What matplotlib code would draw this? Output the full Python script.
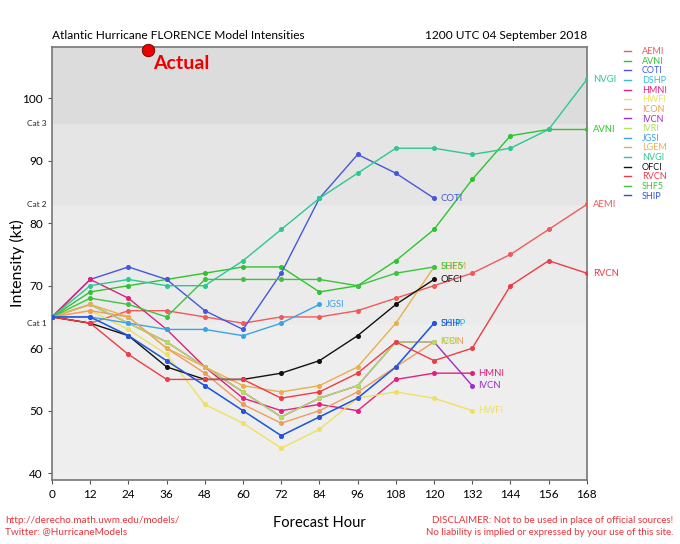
import matplotlib
matplotlib.use("Agg")
import matplotlib.pyplot as plt

plt.rcParams['font.family'] = ['Lato', 'DejaVu Sans']

# ------------------------------
# data: forecast hours and model intensities (kt)
# ------------------------------
hours = [0, 12, 24, 36, 48, 60, 72, 84, 96, 108, 120, 132, 144, 156, 168]

AEMI = [65, 64, 66, 66, 65, 64, 65, 65, 66, 68, 70, 72, 75, 79, 83]
AVNI = [65, 69, 70, 71, 72, 73, 73, 69, 70, 74, 79, 87, 94, 95, 95]
COTI = [65, 71, 73, 71, 66, 63, 72, 84, 91, 88, 84]
DSHP = [65, 65, 62, 58, 54, 50, 46, 49, 52, 57, 64]
HMNI = [65, 71, 68, 63, 57, 52, 50, 51, 50, 55, 56, 56]
HWFI = [65, 66, 63, 59, 51, 48, 44, 47, 52, 53, 52, 50]
ICON = [65, 66, 65, 60, 56, 51, 48, 50, 53, 57, 61]
IVCN = [65, 67, 64, 61, 57, 53, 49, 52, 54, 61, 61, 54]
IVRI = [65, 67, 64, 61, 57, 53, 49, 52, 54, 61, 61]
JGSI = [65, 65, 64, 63, 63, 62, 64, 67]
LGEM = [65, 67, 65, 60, 57, 54, 53, 54, 57, 64, 73]
NVGI = [65, 70, 71, 70, 70, 74, 79, 84, 88, 92, 92, 91, 92, 95, 103]
OFCI = [65, 64, 62, 57, 55, 55, 56, 58, 62, 67, 71]
RVCN = [65, 64, 59, 55, 55, 55, 52, 53, 56, 61, 58, 60, 70, 74, 72]
SHF5 = [65, 68, 67, 65, 71, 71, 71, 71, 70, 72, 73]
SHIP = [65, 65, 62, 58, 54, 50, 46, 49, 52, 57, 64]

models = ['AEMI', 'AVNI', 'COTI', 'DSHP', 'HMNI', 'HWFI', 'ICON', 'IVCN',
          'IVRI', 'JGSI', 'LGEM', 'NVGI', 'OFCI', 'RVCN', 'SHF5', 'SHIP']
series = [AEMI, AVNI, COTI, DSHP, HMNI, HWFI, ICON, IVCN,
          IVRI, JGSI, LGEM, NVGI, OFCI, RVCN, SHF5, SHIP]
colors = ['#f05a5a', '#2ec42e', '#4458dc', '#33bcd6', '#e0207e', '#efe060',
          '#f09c5a', '#a02ccc', '#b4e05a', '#38a4e6', '#e6b04e', '#2cc890',
          '#111111', '#ee3c46', '#3cc43c', '#2f4fe0']

actual_hour = 30
actual_kt = 107.7

cat_levels = [64, 83, 96]
cat_labels = ['Cat 1', 'Cat 2', 'Cat 3']

# ------------------------------
# figure
# ------------------------------
fig = plt.figure(figsize=(6.8, 5.44), dpi=100)
ax = fig.add_axes([0.0765, 0.1176, 0.7865, 0.796])

ymin, ymax = 38.9, 108.2
ax.set_xlim(0, 168)
ax.set_ylim(ymin, ymax)

# background bands by category
ax.axhspan(ymin, cat_levels[0], color='#eeeeee', zorder=0)
ax.axhspan(cat_levels[0], cat_levels[1], color='#ebebeb', zorder=0)
ax.axhspan(cat_levels[1], cat_levels[2], color='#e5e5e5', zorder=0)
ax.axhspan(cat_levels[2], ymax, color='#dcdcdc', zorder=0)

for name, vals, c in zip(models, series, colors):
    h = hours[:len(vals)]
    ax.plot(h, vals, color=c, lw=1.0, marker='o', ms=2.6, label=name, zorder=3)
    ax.annotate(name, xy=(h[-1], vals[-1]), xytext=(4.5, 0), textcoords='offset points',
                color=c, fontsize=6.8, va='center', ha='left', annotation_clip=False)

# actual intensity
ax.plot([actual_hour], [actual_kt], 'o', ms=9, color='#ee0000', mec='#660000', mew=0.6,
        clip_on=False, zorder=6)
ax.text(actual_hour + 1.6, actual_kt - 2.2, 'Actual', color='#ee0000', fontsize=14,
        fontweight='bold', ha='left', va='center')

ax.set_xticks(hours)
ax.set_yticks([40, 50, 60, 70, 80, 90, 100])
ax.tick_params(axis='both', labelsize=8.5, length=3, color='#555555')
for lvl, lab in zip(cat_levels, cat_labels):
    ax.text(-1.6, lvl, lab, fontsize=6, ha='right', va='center', color='#222222')

for s in ax.spines.values():
    s.set_color('#777777')
    s.set_linewidth(1.2)

ax.set_ylabel('Intensity (kt)', fontsize=11.5)
ax.yaxis.set_label_coords(-0.05, 0.5)
fig.text(0.47, 0.038, 'Forecast Hour', fontsize=10.5, ha='center', va='center')

fig.text(0.0765, 0.925, 'Atlantic Hurricane FLORENCE Model Intensities', fontsize=8.6, ha='left', va='bottom')
fig.text(0.863, 0.925, '1200 UTC 04 September 2018', fontsize=8.6, ha='right', va='bottom')

red = '#e8333a'
fig.text(0.008, 0.043, 'http://derecho.math.uwm.edu/models/', fontsize=7.2, color=red, ha='left', va='center')
fig.text(0.008, 0.022, 'Twitter: @HurricaneModels', fontsize=7.2, color=red, ha='left', va='center')
fig.text(0.99, 0.043, 'DISCLAIMER: Not to be used in place of official sources!', fontsize=7.0,
         color=red, ha='right', va='center')
fig.text(0.99, 0.022, 'No liability is implied or expressed by your use of this site.', fontsize=7.0,
         color=red, ha='right', va='center')

leg = ax.legend(loc='upper left', bbox_to_anchor=(1.062, 1.008), frameon=False, fontsize=6.5,
                handlelength=0.8, handletextpad=1.2, labelspacing=0.07, labelcolor='linecolor',
                borderaxespad=0)
for line in leg.get_lines():
    line.set_marker('')

fig.savefig('out.png', dpi=100, facecolor='white')
